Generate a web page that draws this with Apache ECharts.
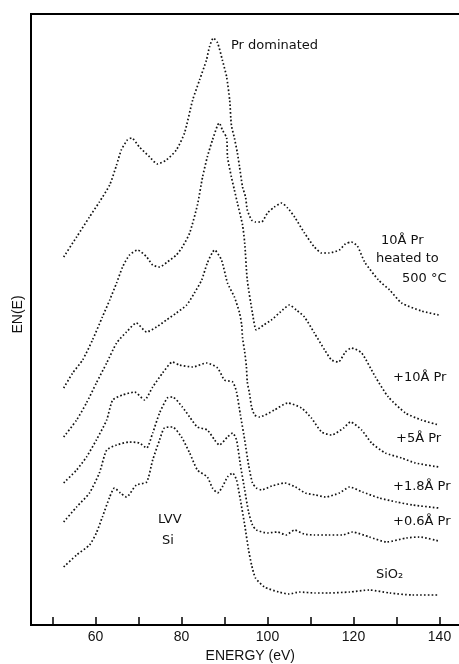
<!DOCTYPE html>
<html>
<head>
<meta charset="utf-8">
<script src="https://cdn.jsdelivr.net/npm/echarts@6/dist/echarts.min.js"></script>
<style>
html, body { margin: 0; padding: 0; background: #fff; }
#chart { width: 459px; height: 664px; }
</style>
</head>
<body>
<div id="chart"></div>
<script>
// energies (eV) and EN(E) values (arbitrary units)
var heatedE = [52.6, 55.6, 58.6, 60.9, 63.3, 64.9, 66.0, 67.4, 68.4, 70.2, 72.6, 74.4, 76.5, 78.8, 80.7, 82.6, 84.2, 85.8, 86.5, 87.4, 88.4, 89.5, 90.5, 91.2, 91.6, 92.3, 93.0, 93.5, 94.2, 94.9, 95.3, 96.3, 97.2, 98.6, 100.0, 101.6, 103.3, 104.7, 106.3, 108.6, 110.9, 112.6, 114.2, 116.7, 118.1, 119.5, 120.9, 122.6, 125.8, 128.4, 131.2, 135.8, 139.8];
var heatedV = [368, 388, 408, 423, 440, 460, 475, 485, 487, 478, 468, 461, 465, 475, 492, 525, 545, 565, 578, 587, 582, 565, 548, 525, 500, 487, 472, 458, 438, 428, 415, 405, 403, 403, 412, 418, 422, 417, 408, 392, 378, 372, 372, 375, 381, 383, 379, 363, 345, 335, 322, 314, 310];

var pr10E = [52.6, 54.7, 57.0, 59.3, 61.6, 63.3, 64.9, 66.3, 67.9, 69.8, 71.9, 73.3, 74.9, 76.7, 78.8, 80.2, 81.9, 83.7, 84.9, 86.0, 87.2, 88.4, 88.8, 89.5, 90.5, 90.7, 91.6, 92.3, 93.0, 94.2, 94.7, 95.3, 96.5, 97.4, 99.1, 100.9, 103.0, 105.1, 106.7, 108.6, 110.9, 113.3, 114.9, 116.5, 118.1, 119.5, 121.9, 125.1, 128.1, 132.1, 135.8, 139.8];
var pr10V = [237, 252, 265, 285, 308, 325, 342, 358, 370, 375, 368, 360, 358, 363, 370, 378, 392, 420, 448, 468, 485, 500, 502, 495, 487, 468, 448, 435, 422, 400, 382, 345, 312, 295, 300, 305, 313, 320, 315, 308, 292, 275, 265, 263, 273, 277, 272, 248, 228, 212, 205, 200];

var pr5E = [52.6, 55.6, 57.9, 60.2, 62.6, 64.9, 67.2, 69.5, 71.9, 74.2, 76.5, 78.8, 81.2, 83.0, 84.7, 86.0, 87.7, 89.3, 90.7, 92.3, 93.5, 94.0, 94.2, 94.7, 95.1, 95.3, 95.8, 96.3, 97.0, 98.1, 101.6, 104.7, 107.9, 110.2, 112.6, 114.9, 117.7, 119.3, 121.9, 124.2, 127.4, 131.2, 134.4, 139.8];
var pr5V = [188, 205, 222, 242, 262, 282, 293, 302, 293, 298, 305, 312, 320, 332, 345, 362, 375, 365, 342, 328, 312, 300, 287, 273, 258, 243, 232, 218, 210, 208, 215, 222, 217, 207, 193, 190, 197, 203, 195, 182, 172, 167, 162, 158];

var pr18E = [52.6, 55.6, 57.9, 60.2, 62.6, 64.0, 66.3, 69.1, 71.4, 73.3, 75.6, 77.9, 79.5, 82.6, 85.8, 88.4, 90.0, 91.9, 92.8, 93.7, 94.7, 95.6, 96.5, 97.4, 98.6, 101.0, 104.0, 106.5, 108.8, 111.2, 113.5, 116.7, 119.1, 122.1, 126.0, 130.0, 133.7, 139.8];
var pr18V = [142, 155, 168, 185, 205, 225, 230, 233, 225, 238, 252, 263, 260, 258, 262, 257, 245, 243, 233, 210, 185, 160, 142, 137, 135, 139, 142, 138, 132, 130, 128, 132, 138, 133, 127, 123, 120, 117];

var pr06E = [52.6, 55.6, 58.6, 60.9, 62.6, 64.9, 67.9, 70.2, 71.9, 73.3, 74.9, 76.7, 77.9, 80.2, 81.9, 83.7, 86.0, 87.7, 88.8, 90.7, 91.9, 92.8, 93.7, 94.7, 95.6, 96.5, 97.4, 100.0, 102.3, 104.3, 106.3, 108.5, 110.9, 114.2, 117.4, 119.8, 123.7, 127.7, 132.3, 135.3, 139.8];
var pr06V = [103, 118, 132, 152, 175, 180, 183, 182, 177, 192, 212, 227, 228, 218, 208, 198, 195, 185, 180, 188, 192, 185, 160, 135, 113, 100, 95, 92, 93, 90, 95, 91, 90, 90, 90, 93, 88, 83, 87, 88, 84];

var sio2E = [52.6, 55.6, 58.6, 60.2, 61.6, 63.3, 64.4, 65.8, 67.2, 69.5, 71.9, 73.3, 74.9, 76.0, 77.9, 80.0, 81.9, 83.7, 86.0, 87.2, 88.4, 89.5, 90.7, 91.9, 92.8, 93.7, 94.7, 95.6, 96.3, 97.2, 99.3, 102.6, 105.0, 107.4, 111.0, 114.2, 119.1, 123.7, 128.4, 133.7, 139.8];
var sio2V = [58, 70, 80, 92, 108, 128, 137, 132, 128, 140, 143, 165, 185, 197, 198, 188, 172, 155, 148, 137, 132, 138, 148, 152, 145, 125, 100, 75, 60, 47, 38, 33, 31, 33, 32, 32, 33, 35, 32, 30, 30];

var xTicks = [50, 60, 70, 80, 90, 100, 110, 120, 130, 140];
var xLabels = [60, 80, 100, 120, 140];

function pairs(xs, ys) {
    var out = new Array();
    for (var i = 0; i < xs.length; i++) {
        out.push([xs[i], ys[i]]);
    }
    return out;
}

function curve(name, xs, ys) {
    return {
        name: name,
        type: "line",
        data: pairs(xs, ys),
        showSymbol: false,
        smooth: 0.2,
        silent: true,
        lineStyle: {color: "#111", width: 1.7, type: [1.6, 2.2]}
    };
}

function note(text, x, y, size) {
    return {
        type: "text",
        left: x,
        top: y - size / 2 - 1,
        silent: true,
        style: {text: text, fill: "#111", font: size + "px 'DejaVu Sans'"}
    };
}

var chart = echarts.init(document.getElementById("chart"), null, {renderer: "canvas"});

// the frame runs past the right edge of the picture, so the plot is wider than the window
var option = {
    animation: false,
    backgroundColor: "#fff",
    grid: {
        left: 31, top: 14, width: 438.6, height: 611,
        outerBoundsMode: "none",
        show: true, borderColor: "#000", borderWidth: 2
    },
    xAxis: {
        type: "value",
        min: 45,
        max: 147,
        name: "ENERGY (eV)",
        nameLocation: "middle",
        nameGap: 24,
        nameTextStyle: {color: "#111", fontSize: 14, fontFamily: "Liberation Sans"},
        axisLine: {show: true, lineStyle: {color: "#000", width: 2}},
        axisTick: {show: true, inside: true, length: 8, customValues: xTicks, lineStyle: {color: "#000", width: 1.5}},
        axisLabel: {customValues: xLabels, color: "#111", fontSize: 14, fontFamily: "Liberation Sans", margin: 5},
        splitLine: {show: false}
    },
    yAxis: {
        type: "value",
        min: 0,
        max: 611,
        name: "EN(E)",
        nameLocation: "middle",
        nameGap: 6,
        nameRotate: 90,
        nameTextStyle: {color: "#111", fontSize: 14, fontFamily: "Liberation Sans", padding: [0, 0, 0, 10]},
        axisLine: {show: true, lineStyle: {color: "#000", width: 2}},
        axisTick: {show: false},
        axisLabel: {show: false},
        splitLine: {show: false}
    },
    series: [
        curve("10Å Pr heated to 500 °C", heatedE, heatedV),
        curve("+10Å Pr", pr10E, pr10V),
        curve("+5Å Pr", pr5E, pr5V),
        curve("+1.8Å Pr", pr18E, pr18V),
        curve("+0.6Å Pr", pr06E, pr06V),
        curve("SiO2", sio2E, sio2V)
    ],
    graphic: [
        note("Pr dominated", 231, 47, 13),
        note("10Å Pr", 381, 242, 13),
        note("heated to", 376, 260, 13),
        note("500 °C", 402, 280, 13),
        note("+10Å Pr", 393, 379, 13),
        note("+5Å Pr", 396, 440, 13),
        note("+1.8Å Pr", 393, 488, 13),
        note("+0.6Å Pr", 393, 523, 13),
        note("SiO₂", 376, 576, 13),
        note("LVV", 158, 521, 13),
        note("Si", 162, 542, 13)
    ]
};

chart.setOption(option);
</script>
</body>
</html>
